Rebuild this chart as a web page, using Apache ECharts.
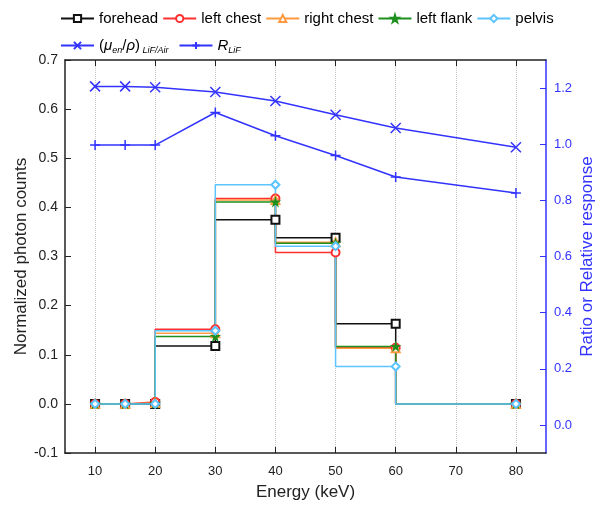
<!DOCTYPE html>
<html>
<head>
    <meta charset="utf-8">
    <script src="https://cdn.jsdelivr.net/npm/echarts@6/dist/echarts.min.js"></script>
    <style>
        body{
            margin:0;
            padding:0;
            background:#fff;
        }
    </style>
</head>
<body>
<div id="main" style="width:603px;height:506px;"></div>
<script type="text/javascript">
var myChart = echarts.init(document.getElementById('main'));

// energies (keV)
let energy = [10, 15, 20, 30, 40, 50, 60, 80];
// normalized photon counts (left axis)
let forehead   = [0, 0, 0,     0.118, 0.375, 0.338, 0.163, 0];
let leftChest  = [0, 0, 0.004, 0.152, 0.418, 0.308, 0.114, 0];
let rightChest = [0, 0, 0.002, 0.144, 0.415, 0.329, 0.113, 0];
let leftFlank  = [0, 0, 0.001, 0.137, 0.411, 0.327, 0.117, 0];
let pelvis     = [0, 0, 0,     0.149, 0.446, 0.321, 0.076, 0];
// ratios (right axis)
let muRatio = [1.206, 1.206, 1.203, 1.186, 1.154, 1.105, 1.058, 0.989];
let rLiF    = [0.997, 0.997, 0.997, 1.113, 1.030, 0.960, 0.883, 0.826];
// ticks
let xTicks = [10, 20, 30, 40, 50, 60, 70, 80];
let rightTicks = [0, 0.2, 0.4, 0.6, 0.8, 1.0, 1.2];

const BLUE = '#3333ff';
const FONT = 'Liberation Sans';
const STAR = 'path://M50,0L61,35L98,35L68,57L79,91L50,70L21,91L32,57L2,35L39,35Z';
const CROSS = 'path://M0,0L10,10M10,0L0,10';
const PLUS = 'path://M5,0L5,10M0,5L10,5';

function pairs(ys) {
  return energy.map(function (x, i) { return [x, ys[i]]; });
}

function stepSeries(name, ys, color, symbol) {
  return {
    name: name,
    type: 'line',
    step: 'start',
    data: pairs(ys),
    symbol: symbol,
    symbolSize: 8,
    color: color,
    lineStyle: { width: 1.5, color: color },
    itemStyle: { color: color, borderColor: color, borderWidth: 1.2 }
  };
}

function ratioSeries(name, ys, symbol) {
  return {
    name: name,
    type: 'line',
    yAxisIndex: 1,
    data: pairs(ys),
    symbol: symbol,
    symbolSize: 10,
    color: BLUE,
    lineStyle: { width: 1.5, color: BLUE },
    itemStyle: { color: 'none', borderColor: BLUE, borderWidth: 1.5 }
  };
}

option = {
  backgroundColor: '#fff',
  textStyle: { fontFamily: FONT },
  animation: false,
  legend: [
    {
      data: ['forehead', 'left chest', 'right chest', 'left flank', 'pelvis'],
      left: 55,
      top: 6,
      itemWidth: 33,
      itemHeight: 9,
      itemGap: 4,
      textStyle: { fontSize: 15, color: '#000', fontFamily: FONT }
    },
    {
      data: ['mu', 'R'],
      left: 55,
      top: 33,
      itemWidth: 33,
      itemHeight: 9,
      itemGap: 10,
      formatter: function (name) {
        if (name === 'mu') return '{a|(}{i|μ}{s|en}{a|/}{i|ρ}{a|)}{s| LiF/Air}';
        return '{i|R}{s|LiF}';
      },
      textStyle: {
        fontSize: 15, color: '#000', fontFamily: FONT,
        rich: {
          a: { fontSize: 15, fontFamily: FONT },
          i: { fontSize: 15, fontStyle: 'italic', fontFamily: FONT },
          s: { fontSize: 9, fontStyle: 'italic', fontFamily: FONT, padding: [9, 0, 0, 0] }
        }
      }
    }
  ],
  grid: {
    left: 65,
    right: 57,
    top: 60,
    bottom: 53,
    containLabel: false,
    outerBoundsMode: 'none'
  },
  xAxis: [
    {
      type: 'value',
      min: 5,
      max: 85,
      name: 'Energy (keV)',
      nameLocation: 'middle',
      nameGap: 31,
      nameTextStyle: { fontSize: 17, color: '#222', fontFamily: FONT },
      axisLine: { show: true, onZero: false, lineStyle: { color: '#222', width: 1.5 } },
      axisTick: { show: true, inside: true, length: 6, customValues: xTicks, lineStyle: { color: '#222' } },
      axisLabel: { customValues: xTicks, fontSize: 13, color: '#222', margin: 12 },
      splitLine: { show: true, lineStyle: { type: 'dotted', color: '#c4c4c4', width: 1 } }
    },
    {
      type: 'value',
      position: 'top',
      min: 5,
      max: 85,
      axisLine: { show: true, onZero: false, lineStyle: { color: '#222', width: 1.5 } },
      axisTick: { show: true, inside: true, length: 6, customValues: xTicks, lineStyle: { color: '#222' } },
      axisLabel: { show: false },
      splitLine: { show: false }
    }
  ],
  yAxis: [
    {
      type: 'value',
      min: -0.1,
      max: 0.7,
      interval: 0.1,
      name: 'Normalized photon counts',
      nameLocation: 'middle',
      nameGap: 35,
      nameRotate: 90,
      nameMoveOverlap: false,
      nameTextStyle: { fontSize: 17, color: '#222', fontFamily: FONT },
      axisLine: { show: true, onZero: false, lineStyle: { color: '#222', width: 1.5 } },
      axisTick: { show: true, inside: true, length: 6, lineStyle: { color: '#222' } },
      axisLabel: {
        fontSize: 14, color: '#222', margin: 7,
        formatter: function (v) { return v.toFixed(1); }
      },
      splitLine: { show: false }
    },
    {
      type: 'value',
      position: 'right',
      min: -0.1,
      max: 1.3,
      name: 'Ratio or Relative response',
      nameLocation: 'middle',
      nameGap: 33,
      nameRotate: 90,
      nameMoveOverlap: false,
      nameTextStyle: { fontSize: 17, color: BLUE, fontFamily: FONT },
      axisLine: { show: true, onZero: false, lineStyle: { color: BLUE, width: 1.5 } },
      axisTick: { show: true, inside: true, length: 6, customValues: rightTicks, lineStyle: { color: BLUE } },
      axisLabel: {
        customValues: rightTicks, fontSize: 13, color: BLUE, margin: 8,
        formatter: function (v) { return v.toFixed(1); }
      },
      splitLine: { show: false }
    }
  ],
  series: [
    stepSeries('forehead', forehead, '#111111', 'emptyRect'),
    stepSeries('left chest', leftChest, '#ff3030', 'emptyCircle'),
    stepSeries('right chest', rightChest, '#ff9a40', 'emptyTriangle'),
    stepSeries('left flank', leftFlank, '#1f8f1f', STAR),
    stepSeries('pelvis', pelvis, '#5cc4ff', 'emptyDiamond'),
    ratioSeries('mu', muRatio, CROSS),
    ratioSeries('R', rLiF, PLUS)
  ]
};
myChart.setOption(option);
</script>
</body>
</html>
